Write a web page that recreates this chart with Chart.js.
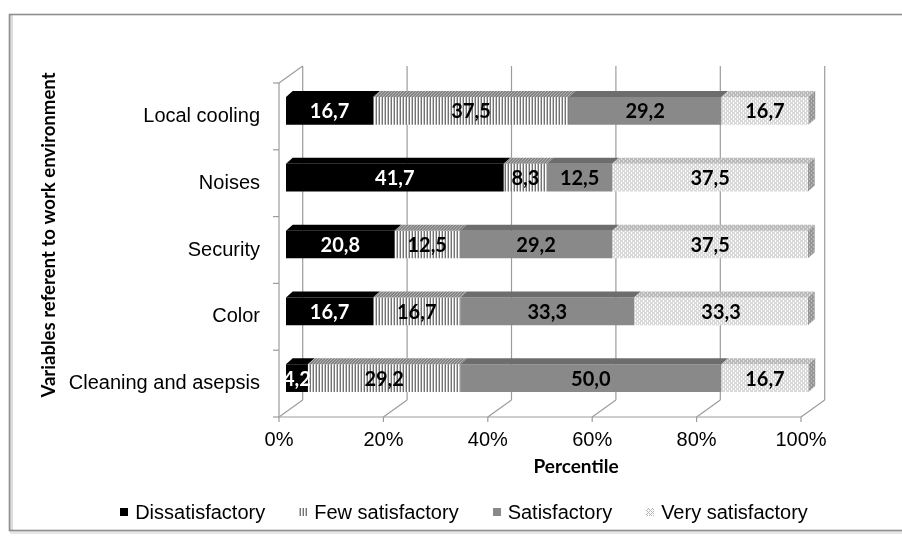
<!DOCTYPE html>
<html><head><meta charset="utf-8">
<script src="https://cdn.jsdelivr.net/npm/chart.js@4/dist/chart.umd.min.js"></script>
<style>html,body{margin:0;padding:0;background:#fff;overflow:hidden}</style>
</head><body>
<canvas id="c" width="902" height="536" style="display:block;width:902px;height:536px"></canvas>
<script>
// ---- data ----
const categories = ['Local cooling', 'Noises', 'Security', 'Color', 'Cleaning and asepsis'];
const seriesNames = ['Dissatisfactory', 'Few satisfactory', 'Satisfactory', 'Very satisfactory'];
const dissatisfactory  = [16.7, 41.7, 20.8, 16.7, 4.2];
const fewSatisfactory  = [37.5, 8.3, 12.5, 16.7, 29.2];
const satisfactory     = [29.2, 12.5, 29.2, 33.3, 50.0];
const verySatisfactory = [16.7, 37.5, 37.5, 33.3, 16.7];
const xTickValues = [0, 20, 40, 60, 80, 100];
const xTitle = 'Percentile';
const yTitle = 'Variables referent to work environment';

// ---- patterns ----
function makePattern(w, h, fn) {
  const c = document.createElement('canvas');
  c.width = w; c.height = h;
  const g = c.getContext('2d');
  for (let y = 0; y < h; y++) for (let x = 0; x < w; x++) {
    g.fillStyle = fn(x, y); g.fillRect(x, y, 1, 1);
  }
  return document.getElementById('c').getContext('2d').createPattern(c, 'repeat');
}
const stripeCols = ['#737373', '#ffffff', '#c4c4c4'];
const stripeFront = makePattern(3, 1, (x) => stripeCols[x]);
const stripeTop = makePattern(3, 3, (x, y) => (x + y) % 3 === 0 ? '#5a5a5a' : '#b0b0b0');
const lattice = (a, b) => (x, y) => ((x + y) % 4 === 0 || (x - y + 8) % 4 === 0) ? a : b;
const dotFront = makePattern(4, 4, lattice('#b4b4b4', '#ffffff'));
const dotTop = makePattern(4, 4, lattice('#949494', '#e0e0e0'));
const dotSide = makePattern(4, 4, lattice('#767676', '#b8b8b8'));

const fronts = ['#000000', stripeFront, '#898989', dotFront];
const tops = ['#000000', stripeTop, '#6d6d6d', dotTop];
const sides = ['#000000', stripeTop, '#6d6d6d', dotSide];
const labelColors = ['#ffffff', '#000000', '#000000', '#000000'];
const seriesValues = [dissatisfactory, fewSatisfactory, satisfactory, verySatisfactory];

// 3D geometry (px)
const WALL = {dx: 23.7, dy: -17};
const BAR_OFF = {dx: 7, dy: -5.5};
const BAR_D = {dx: 6.7, dy: -6};
const LINE = '#9c9c9c';

const fmt = v => v.toFixed(1).replace('.', ',');

function poly(ctx, pts, fill) {
  ctx.beginPath();
  ctx.moveTo(pts[0][0], pts[0][1]);
  for (let i = 1; i < pts.length; i++) ctx.lineTo(pts[i][0], pts[i][1]);
  ctx.closePath();
  ctx.fillStyle = fill;
  ctx.fill();
}
function line(ctx, x1, y1, x2, y2) {
  ctx.beginPath(); ctx.moveTo(x1, y1); ctx.lineTo(x2, y2); ctx.stroke();
}

const plugin3d = {
  id: 'threeD',
  beforeDraw(chart) {
    const ctx = chart.ctx;
    ctx.save();
    ctx.fillStyle = '#fff';
    ctx.fillRect(0, 0, chart.width, chart.height);
    ctx.fillStyle = '#dcdcdc';
    ctx.fillRect(10, 15, 3, 516);
    ctx.fillStyle = '#e6e6e6';
    ctx.fillRect(10, 531, 900, 3);
    ctx.strokeStyle = '#8e8e8e';
    ctx.lineWidth = 1.6;
    ctx.strokeRect(9.5, 14.5, 920, 516);
    ctx.restore();
  },
  beforeDatasetsDraw(chart) {
    const ctx = chart.ctx;
    const xs = chart.scales.x;
    const top = chart.chartArea.top, bottom = chart.chartArea.bottom, left = chart.chartArea.left;
    ctx.save();
    ctx.strokeStyle = LINE;
    ctx.lineWidth = 1.2;
    xTickValues.forEach(v => {
      const px = xs.getPixelForValue(v);
      line(ctx, px + WALL.dx, top + WALL.dy, px + WALL.dx, bottom + WALL.dy);
      line(ctx, px, bottom, px + WALL.dx, bottom + WALL.dy);
      line(ctx, px, bottom, px, bottom + 5);
    });
    line(ctx, xs.getPixelForValue(0), bottom, xs.getPixelForValue(100), bottom);
    line(ctx, left, top, left, bottom);
    line(ctx, left, top, left + WALL.dx, top + WALL.dy);
    const n = categories.length;
    const step = (bottom - top) / n;
    for (let i = 0; i <= n; i++) line(ctx, left - 6, top + i * step, left, top + i * step);
    ctx.restore();
    ctx.save();
    ctx.translate(BAR_OFF.dx, BAR_OFF.dy);
  },
  afterDatasetsDraw(chart) {
    const ctx = chart.ctx;
    const nSets = chart.data.datasets.length;
    const boxes = [];
    for (let i = 0; i < nSets; i++) {
      const meta = chart.getDatasetMeta(i);
      meta.data.forEach((el, j) => {
        const p = el.getProps(['x', 'y', 'base', 'height'], true);
        const l = Math.min(p.x, p.base), r = Math.max(p.x, p.base);
        const t = p.y - p.height / 2, b = p.y + p.height / 2;
        boxes.push({i, j, l, r, t, b, y: p.y});
        poly(ctx, [[l, t], [r, t], [r + BAR_D.dx, t + BAR_D.dy], [l + BAR_D.dx, t + BAR_D.dy]], tops[i]);
        if (i === nSets - 1) {
          poly(ctx, [[r, t], [r + BAR_D.dx, t + BAR_D.dy], [r + BAR_D.dx, b + BAR_D.dy], [r, b]], sides[i]);
        }
      });
    }
    ctx.font = 'bold 20px Lato, "DejaVu Sans", sans-serif';
    ctx.textAlign = 'center';
    ctx.textBaseline = 'middle';
    boxes.forEach(bx => {
      ctx.fillStyle = labelColors[bx.i];
      ctx.fillText(fmt(seriesValues[bx.i][bx.j]), (bx.l + bx.r) / 2, bx.y + 1);
    });
    ctx.restore();
  },
  afterDraw(chart) {
    const ctx = chart.ctx;
    ctx.save();
    ctx.fillStyle = '#000';
    ctx.textAlign = 'center';
    ctx.textBaseline = 'middle';
    ctx.font = 'bold 19px Lato, "DejaVu Sans", sans-serif';
    ctx.fillText(xTitle, 576, 467);
    ctx.font = 'bold 18.6px Lato, "DejaVu Sans", sans-serif';
    ctx.save();
    ctx.translate(49, 235);
    ctx.rotate(-Math.PI / 2);
    ctx.fillText(yTitle, 0, 0);
    ctx.restore();
    // legend
    ctx.font = '20px "Liberation Sans", Arial, sans-serif';
    ctx.textAlign = 'left';
    const mk = 8, gapMk = 7, gapItem = 34;
    const widths = seriesNames.map(s => mk + gapMk + ctx.measureText(s).width);
    const total = widths.reduce((a, b) => a + b, 0) + gapItem * (seriesNames.length - 1);
    let x = 464 - total / 2;
    const ly = 512;
    seriesNames.forEach((s, i) => {
      ctx.fillStyle = fronts[i];
      ctx.fillRect(Math.round(x), ly - 4, mk, mk);
      ctx.fillStyle = '#000';
      ctx.fillText(s, x + mk + gapMk, ly + 1);
      x += widths[i] + gapItem;
    });
    ctx.restore();
  }
};

const datasets = seriesNames.map((name, i) => ({
  label: name,
  data: seriesValues[i],
  backgroundColor: fronts[i],
  borderWidth: 0,
  barPercentage: 0.415,
  categoryPercentage: 1,
  clip: false
}));

new Chart(document.getElementById('c'), {
  type: 'bar',
  data: {labels: categories, datasets},
  options: {
    responsive: false,
    animation: false,
    devicePixelRatio: 1,
    indexAxis: 'y',
    layout: {padding: {left: 0, right: 101, top: 83, bottom: 0}},
    plugins: {legend: {display: false}, tooltip: {enabled: false}},
    scales: {
      x: {
        stacked: true, min: 0, max: 100,
        afterBuildTicks: s => { s.ticks = xTickValues.map(v => ({value: v})); },
        afterFit: s => { s.height = 119; },
        ticks: {callback: v => v + '%', color: '#000', padding: 11, maxRotation: 0, autoSkip: false,
                font: {family: '"Liberation Sans", Arial, sans-serif', size: 20}},
        grid: {display: false, drawTicks: false},
        border: {display: false}
      },
      y: {
        stacked: true,
        afterFit: s => { s.width = 279; },
        ticks: {color: '#000', padding: 19, autoSkip: false,
                font: {family: '"Liberation Sans", Arial, sans-serif', size: 20}},
        grid: {display: false, drawTicks: false},
        border: {display: false}
      }
    }
  },
  plugins: [plugin3d]
});
</script>
</body></html>
